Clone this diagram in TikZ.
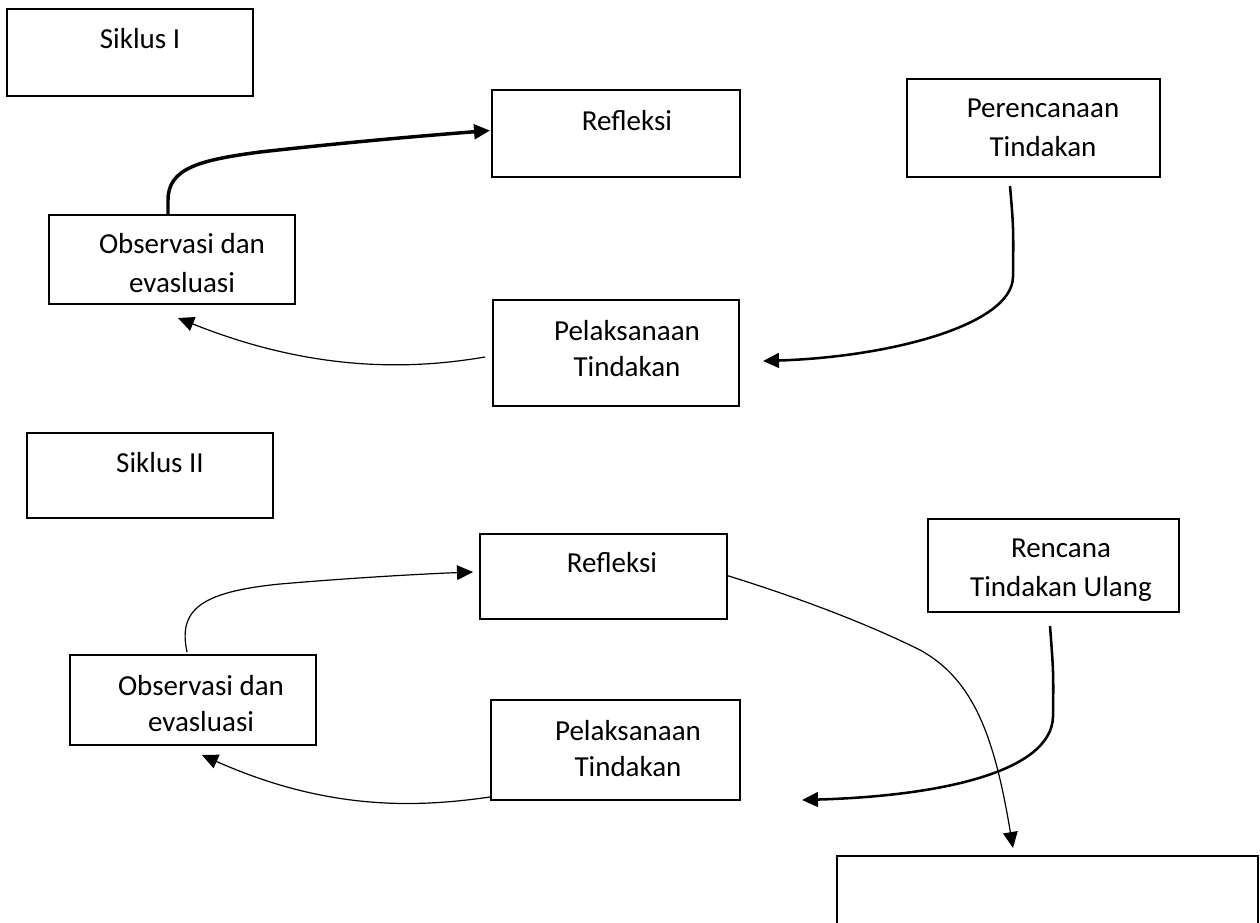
\documentclass[tikz,border=0pt]{standalone}
\usepackage{fontspec}
\setmainfont{Carlito}
\usetikzlibrary{arrows.meta,calc}
\begin{document}
\begin{tikzpicture}[x=0.75pt,y=-0.75pt,
  box/.style={draw, line width=1.5pt, inner sep=0pt, outer sep=0pt},
  thinbox/.style={draw, line width=1pt, inner sep=0pt, outer sep=0pt},
  txt/.style={font=\fontsize{21.75}{27}\selectfont, align=center, anchor=base, inner sep=0pt},
  txtw/.style={font=\fontsize{21.75}{29.25}\selectfont, align=center, anchor=base, inner sep=0pt},
  tip/.style={-{Triangle[length=12pt,width=11pt]}},
  athick/.style={tip, line width=2.6pt},
  amed/.style={tip, line width=1.9pt},
  athin/.style={tip, line width=0.9pt}]
\useasboundingbox (0,0) rectangle (1260,922);

% boxes
\node[box, minimum width=184.5pt, minimum height=65.25pt] (s1) at (130,52.5) {};
\node[box, minimum width=186pt, minimum height=65.25pt] (refl1) at (616,133.5) {};
\node[box, minimum width=189.75pt, minimum height=73.5pt] (peren) at (1033.5,128) {};
\node[box, minimum width=184.5pt, minimum height=66.75pt] (obs1) at (172,259.5) {};
\node[box, minimum width=184.5pt, minimum height=79.5pt] (pel1) at (616,353) {};
\node[box, minimum width=184.5pt, minimum height=63.75pt] (s2) at (150,475.5) {};
\node[box, minimum width=185.25pt, minimum height=63.75pt] (refl2) at (603.5,576.5) {};
\node[box, minimum width=188.25pt, minimum height=69.75pt] (renc) at (1053.5,565.5) {};
\node[box, minimum width=184.5pt, minimum height=67.5pt] (obs2) at (193,700) {};
\node[box, minimum width=186.75pt, minimum height=75pt] (pel2) at (615.5,750) {};
\node[thinbox, minimum width=315.75pt, minimum height=55.5pt] (res) at (1047.5,893) {};

% texts (base anchor = baseline of last line)
\node[txt] (t1) at (140,48) {Siklus I};
\node[txt] (t2) at (627,130) {Refleksi};
\node[txtw] (t3) at (1043,156) {Perencanaan\\Tindakan};
\node[txtw] (t4) at (182,292) {Observasi dan\\evasluasi};
\node[txt] (t5) at (627,376) {Pelaksanaan\\Tindakan};
\node[txt] (t6) at (160,472) {Siklus II};
\node[txt] (t7) at (612,572) {Refleksi};
\node[txtw] (t8) at (1061,596) {Rencana\\Tindakan Ulang};
\node[txt] (t9) at (201,731) {Observasi dan\\evasluasi};
\node[txt] (t10) at (628,776) {Pelaksanaan\\Tindakan};

% connectors, cycle I
\draw[athick] ($(obs1.north)+(-4,0)$) -- ++(0,-15) .. controls +(0,-32) and (200,160) .. (260,152)
  .. controls (350,142) and (420,136) .. ($(refl1.west)+(-2,-3)$);
\draw[amed] ($(peren.south)+(-23.5,9)$) .. controls ($(peren.south)+(-20,50)$) .. (1013,277)
  .. controls (1012,325) and (890,357) .. ($(pel1.east)+(24,8)$);
\draw[athin] ($(pel1.west)+(-8,4)$) .. controls (420,368) and (320,375) .. ($(obs1.south)+(6,14)$);

% connectors, cycle II
\draw[athin] ($(obs2.north)+(-6,-3)$) .. controls (178,610) and (200,592) .. (280,584)
  .. controls (350,578) and (420,574) .. ($(refl2.west)+(-7,-4.5)$);
\draw[athin] ($(refl2.east)+(0,-1)$) .. controls (800,598) and (870,625) .. (920,650)
  .. controls (975,680) and (995,740) .. ($(res.north)+(-34.5,-8)$);
\draw[amed] ($(renc.south)+(-3.5,14)$) .. controls ($(renc.south)+(0,60)$) .. (1053,717)
  .. controls (1051,772) and (940,796) .. ($(pel2.east)+(62,50)$);
\draw[athin] ($(pel2.west)+(-1,47)$) .. controls (420,807) and (330,812) .. ($(obs2.south)+(9,10)$);
\end{tikzpicture}
\end{document}
